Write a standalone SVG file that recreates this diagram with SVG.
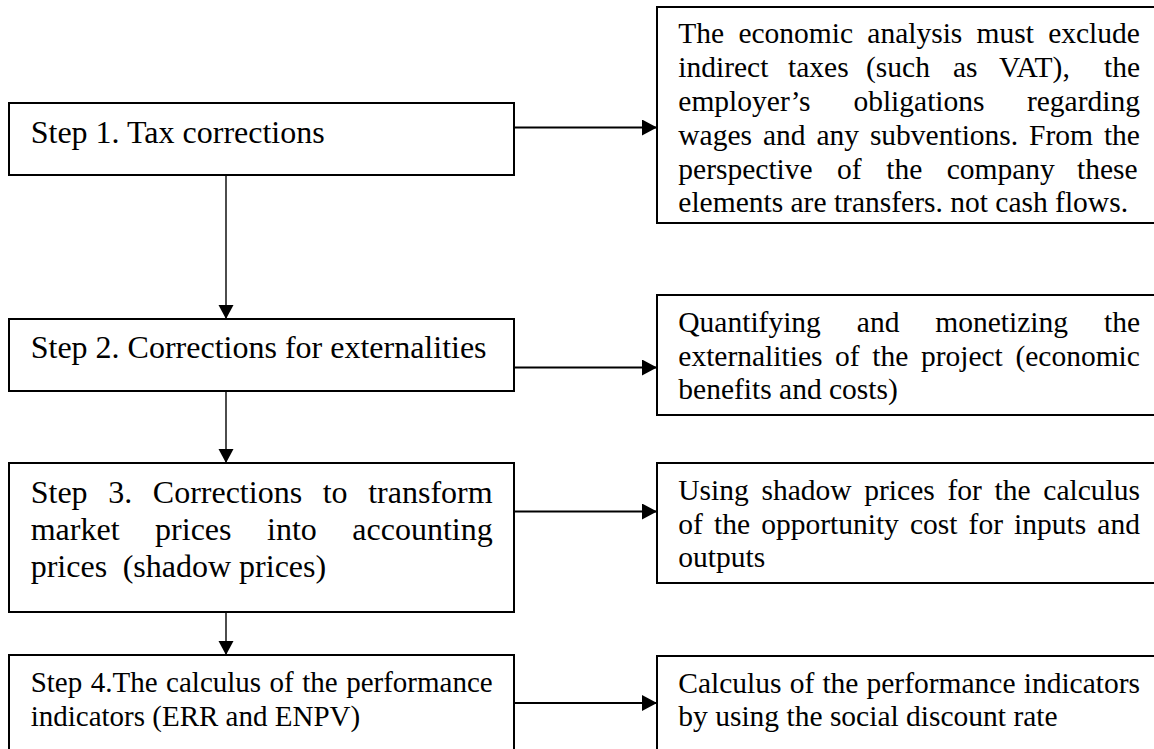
<svg xmlns="http://www.w3.org/2000/svg" width="1154" height="749" viewBox="0 0 1154 749">
<style>
.box{fill:#fff;stroke:#000;stroke-width:2}
.t{font-family:"Liberation Serif","Times New Roman",serif;fill:#000}
.r{font-size:29.5px}
.conn-h{stroke:#000;stroke-width:2.2;fill:none}
.conn-v{stroke:#000;stroke-width:1.4;fill:none}
</style>
<defs>
<marker id="ah" markerUnits="userSpaceOnUse" markerWidth="16" markerHeight="17" refX="15" refY="8" orient="auto">
<path d="M0,0 L15,8 L0,16 Z" fill="#000"/>
</marker>
<marker id="av" markerUnits="userSpaceOnUse" markerWidth="15" markerHeight="16" refX="14" refY="7.5" orient="auto">
<path d="M0,0 L14,7.5 L0,15 Z" fill="#000"/>
</marker>
</defs>

<g id="connectors">
<line class="conn-v" x1="226" y1="175" x2="226" y2="319" marker-end="url(#av)"/>
<line class="conn-v" x1="226" y1="391" x2="226" y2="463" marker-end="url(#av)"/>
<line class="conn-v" x1="226" y1="612" x2="226" y2="655" marker-end="url(#av)"/>
<line class="conn-h" x1="514" y1="127.5" x2="657" y2="127.5" marker-end="url(#ah)"/>
<line class="conn-h" x1="514" y1="367.5" x2="657" y2="367.5" marker-end="url(#ah)"/>
<line class="conn-h" x1="514" y1="511.5" x2="657" y2="511.5" marker-end="url(#ah)"/>
<line class="conn-h" x1="514" y1="703" x2="657" y2="703" marker-end="url(#ah)"/>
</g>

<g id="step1">
<rect class="box" x="9" y="103" width="505" height="72"/>
<text class="t" font-size="32" x="30.7" y="143.3">Step 1. Tax corrections</text>
</g>

<g id="step2">
<rect class="box" x="9" y="319" width="505" height="72"/>
<text class="t" font-size="32" x="30.7" y="358">Step 2. Corrections for externalities</text>
</g>

<g id="step3">
<rect class="box" x="9" y="463" width="505" height="149"/>
<text class="t" font-size="32" y="503"><tspan x="30.7">Step</tspan><tspan x="108.2">3.</tspan><tspan x="152.8">Corrections</tspan><tspan x="322.7">to</tspan><tspan x="368.2">transform</tspan></text>
<text class="t" font-size="32" y="540"><tspan x="30.7">market</tspan><tspan x="155.1">prices</tspan><tspan x="267">into</tspan><tspan x="352.3">accounting</tspan></text>
<text class="t" font-size="32" y="577"><tspan x="30.7">prices</tspan><tspan x="122.7">(shadow prices)</tspan></text>
</g>

<g id="step4">
<rect class="box" x="9" y="655" width="505" height="110"/>
<text class="t" font-size="29" y="692"><tspan x="30.7">Step</tspan><tspan x="90.8">4.The</tspan><tspan x="166.1">calculus</tspan><tspan x="269.6">of</tspan><tspan x="302.3">the</tspan><tspan x="346.2">performance</tspan></text>
<text class="t" font-size="29" x="30.7" y="726">indicators (ERR and ENPV)</text>
</g>

<g id="note1">
<rect class="box" x="657" y="7" width="510" height="216"/>
<text class="t r" y="43.3"><tspan x="678.3">The</tspan><tspan x="738.4">economic</tspan><tspan x="867.3">analysis</tspan><tspan x="976.6">must</tspan><tspan x="1048.2">exclude</tspan></text>
<text class="t r" y="77.1"><tspan x="678.3">indirect</tspan><tspan x="788">taxes</tspan><tspan x="866">(such</tspan><tspan x="953">as</tspan><tspan x="999">VAT),</tspan><tspan x="1104">the</tspan></text>
<text class="t r" y="110.9"><tspan x="678.3">employer’s</tspan><tspan x="853.4">obligations</tspan><tspan x="1026.9">regarding</tspan></text>
<text class="t r" y="144.7"><tspan x="678.3">wages</tspan><tspan x="762.9">and</tspan><tspan x="816.4">any</tspan><tspan x="869.9">subventions.</tspan><tspan x="1029.1">From</tspan><tspan x="1103.9">the</tspan></text>
<text class="t r" y="178.5"><tspan x="678.3">perspective</tspan><tspan x="837.1">of</tspan><tspan x="886.2">the</tspan><tspan x="946.7">company</tspan><tspan x="1077">these</tspan></text>
<text class="t r" x="678.3" y="212.3">elements are transfers. not cash flows.</text>
</g>

<g id="note2">
<rect class="box" x="657" y="295" width="510" height="120"/>
<text class="t r" y="332"><tspan x="678.3">Quantifying</tspan><tspan x="856.8">and</tspan><tspan x="935.3">monetizing</tspan><tspan x="1104">the</tspan></text>
<text class="t r" y="365.5"><tspan x="678.3">externalities</tspan><tspan x="835.1">of</tspan><tspan x="872.3">the</tspan><tspan x="920.9">project</tspan><tspan x="1015.4">(economic</tspan></text>
<text class="t r" x="678.3" y="399">benefits and costs)</text>
</g>

<g id="note3">
<rect class="box" x="657" y="463" width="510" height="120"/>
<text class="t r" y="500"><tspan x="678.3">Using</tspan><tspan x="761.5">shadow</tspan><tspan x="864.3">prices</tspan><tspan x="947.4">for</tspan><tspan x="994.5">the</tspan><tspan x="1043.3">calculus</tspan></text>
<text class="t r" y="534"><tspan x="678.3">of</tspan><tspan x="714">the</tspan><tspan x="761.2">opportunity</tspan><tspan x="910">cost</tspan><tspan x="968.6">for</tspan><tspan x="1014.1">inputs</tspan><tspan x="1097.3">and</tspan></text>
<text class="t r" x="678.3" y="567">outputs</text>
</g>

<g id="note4">
<rect class="box" x="657" y="656" width="510" height="110"/>
<text class="t r" y="692.5"><tspan x="678.3">Calculus</tspan><tspan x="789.7">of</tspan><tspan x="822.4">the</tspan><tspan x="866.5">performance</tspan><tspan x="1023.7">indicators</tspan></text>
<text class="t r" x="678.3" y="726">by using the social discount rate</text>
</g>
</svg>
